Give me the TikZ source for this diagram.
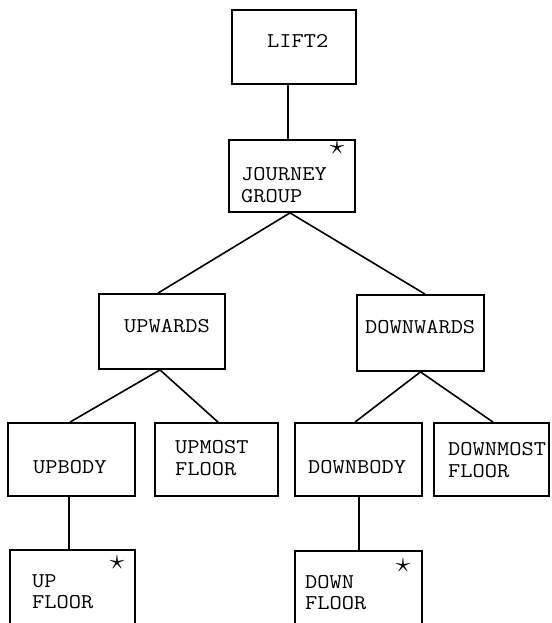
\documentclass[tikz,border=0pt]{standalone}
\usepackage{graphicx}
% typewriter lettering, widened to the typed pitch
\newcommand{\typed}[1]{\scalebox{1.13}[1]{#1}}
\begin{document}
\begin{tikzpicture}[x=1pt,y=-1pt,
  box/.style={draw, line width=1.8pt, rectangle, inner sep=0pt},
  lbl/.style={anchor=base west, inner sep=0pt,
              font=\fontsize{21}{22}\selectfont\ttfamily},
  markstar/.style={inner sep=0pt, font=\fontsize{19}{19}\selectfont},
  link/.style={line width=1.6pt}]
\useasboundingbox (0,0) rectangle (551,623);
\clip (0,0) rectangle (551,623);
\fill[white] (0,0) rectangle (551,623);

% boxes
\node[box, minimum width=124pt, minimum height=74pt] (lift)      at (294,47)    {};
\node[box, minimum width=126pt, minimum height=72pt] (journey)   at (292,176)   {};
\node[box, minimum width=126pt, minimum height=75pt] (upwards)   at (162,331.5) {};
\node[box, minimum width=127pt, minimum height=76pt] (downwards) at (420.5,333) {};
\node[box, minimum width=127pt, minimum height=73pt] (upbody)    at (71.5,459.5) {};
\node[box, minimum width=123pt, minimum height=73pt] (upmost)    at (216.5,459.5) {};
\node[box, minimum width=127pt, minimum height=73pt] (downbody)  at (358.5,459.5) {};
\node[box, minimum width=115pt, minimum height=73pt] (downmost)  at (491.5,459.5) {};
\node[box, minimum width=125pt, minimum height=100pt] (upfloor)  at (72.5,600)  {};
\node[box, minimum width=127pt, minimum height=99pt] (downfloor) at (358.5,600.5) {};

% labels
\node[lbl] (liftA)      at (267,48)  {\typed{LIFT2}};
\node[lbl] (journeyA)   at (241,180) {\typed{JOURNEY}};
\node[lbl] (journeyB)   at (241,202) {\typed{GROUP}};
\node[lbl] (upwardsA)   at (124,332) {\typed{UPWARDS}};
\node[lbl] (downwardsA) at (365,333) {\typed{DOWNWARDS}};
\node[lbl] (upbodyA)    at (33,473)  {\typed{UPBODY}};
\node[lbl] (upmostA)    at (175,453) {\typed{UPMOST}};
\node[lbl] (upmostB)    at (175,475) {\typed{FLOOR}};
\node[lbl] (downbodyA)  at (308,473) {\typed{DOWNBODY}};
\node[lbl] (downmostA)  at (448,455) {\typed{DOWNMOST}};
\node[lbl] (downmostB)  at (448,477) {\typed{FLOOR}};
\node[lbl] (upfloorA)   at (32,587)  {\typed{UP}};
\node[lbl] (upfloorB)   at (32,608)  {\typed{FLOOR}};
\node[lbl] (downfloorA) at (305,588) {\typed{DOWN}};
\node[lbl] (downfloorB) at (305,609) {\typed{FLOOR}};

% iteration marks
\node[markstar] (journeyS)   at (337,148) {\scalebox{1.7}{$\star$}};
\node[markstar] (upfloorS)   at (117,563) {\scalebox{1.7}{$\star$}};
\node[markstar] (downfloorS) at (403,566) {\scalebox{1.7}{$\star$}};

% connectors
\draw[link] ([xshift=-6pt]lift.south) -- ([xshift=-6pt]lift.south |- journey.north);
\draw[link] ([xshift=-2pt]journey.south) -- ([xshift=-4pt]upwards.north);
\draw[link] ([xshift=-2pt]journey.south) -- ([xshift=4.5pt]downwards.north);
\draw[link] ([xshift=-2pt]upwards.south) -- ([xshift=-1.5pt]upbody.north);
\draw[link] ([xshift=-2pt]upwards.south) -- ([xshift=1.5pt]upmost.north);
\draw[link] (downwards.south) -- ([xshift=-3.5pt]downbody.north);
\draw[link] (downwards.south) -- ([xshift=1.5pt]downmost.north);
\draw[link] ([xshift=-2.5pt]upbody.south) -- ([xshift=-2.5pt]upbody.south |- upfloor.north);
\draw[link] ([xshift=0.5pt]downbody.south) -- ([xshift=0.5pt]downbody.south |- downfloor.north);
\end{tikzpicture}
\end{document}
